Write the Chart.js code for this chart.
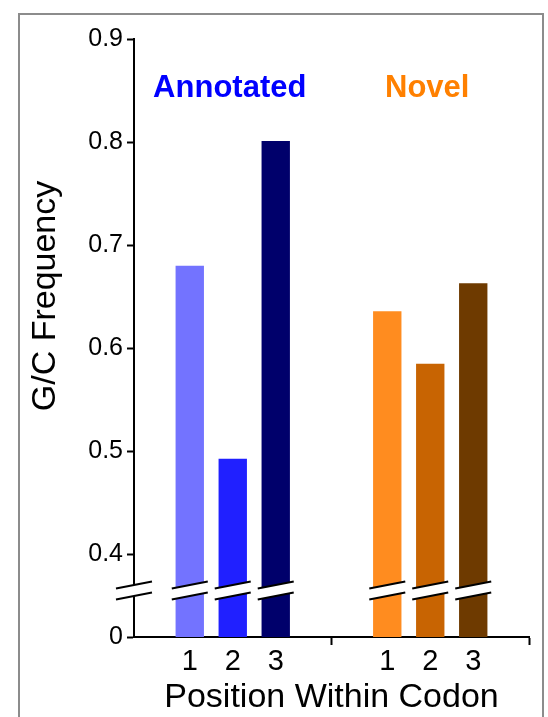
<!DOCTYPE html>
<html>
<head>
<meta charset="utf-8">
<script src="https://cdn.jsdelivr.net/npm/chart.js@4.4.1/dist/chart.umd.min.js"></script>
<style>
  html, body { margin:0; padding:0; background:#fff; }
  #wrap { position:relative; width:548px; height:717px; overflow:hidden; }
  #frame { position:absolute; left:18px; top:13px; width:522px; height:760px;
           border:2px solid #8c8c8c; border-bottom:none; pointer-events:none; }
</style>
</head>
<body>
<div id="wrap">
  <canvas id="chart" width="548" height="717"></canvas>
  <div id="frame"></div>
</div>
<script>
// data
const groups = ['Annotated', 'Novel'];
const positions = ['1', '2', '3'];
const pos1 = [0.680, 0.636];
const pos2 = [0.493, 0.585];
const pos3 = [0.801, 0.663];
const yTicks = [0.4, 0.5, 0.6, 0.7, 0.8, 0.9];
const axisFloor = 0.32;   // where "0" sits below the axis break
const breakAt = 0.365;    // value where the axis is broken

const blues = ['#7373ff', '#2020ff', '#00006b'];
const oranges = ['#ff8c1f', '#c86402', '#6e3a00'];
const groupColors = ['#0000ff', '#ff8000'];

const FONT = "'Liberation Sans', Arial, sans-serif";

// draws the break marks, the codon position labels and the group names
const extras = {
  id: 'extras',
  afterDatasetsDraw(chart){
    const ctx = chart.ctx;
    const y = chart.scales.y, x = chart.scales.x;
    const area = chart.chartArea;
    const cy = y.getPixelForValue(breakAt);
    const half = 18, gap = 5.5, rise = 3.5;

    const xs = [area.left];
    chart.data.datasets.forEach((ds, i) => {
      chart.getDatasetMeta(i).data.forEach(el => xs.push(el.x));
    });

    ctx.save();
    xs.forEach(cx => {
      ctx.fillStyle = '#fff';
      ctx.beginPath();
      ctx.moveTo(cx - half, cy - gap + rise);
      ctx.lineTo(cx + half, cy - gap - rise);
      ctx.lineTo(cx + half, cy + gap - rise);
      ctx.lineTo(cx - half, cy + gap + rise);
      ctx.closePath();
      ctx.fill();
      ctx.strokeStyle = '#000';
      ctx.lineWidth = 2;
      [-gap, gap].forEach(off => {
        ctx.beginPath();
        ctx.moveTo(cx - half, cy + off + rise);
        ctx.lineTo(cx + half, cy + off - rise);
        ctx.stroke();
      });
    });

    // position labels under each bar
    ctx.fillStyle = '#000';
    ctx.font = '29px ' + FONT;
    ctx.textAlign = 'center';
    ctx.textBaseline = 'alphabetic';
    chart.data.datasets.forEach((ds, i) => {
      chart.getDatasetMeta(i).data.forEach(el => {
        ctx.fillText(ds.label, el.x, area.bottom + 33);
      });
    });

    // group names
    ctx.font = 'bold 31px ' + FONT;
    groups.forEach((g, i) => {
      ctx.fillStyle = groupColors[i];
      ctx.fillText(g, x.getPixelForValue(i) - 3, area.top + 58);
    });

    // y title
    ctx.fillStyle = '#000';
    ctx.font = '34px ' + FONT;
    ctx.translate(46, 296);
    ctx.rotate(-Math.PI / 2);
    ctx.textBaseline = 'middle';
    ctx.fillText('G/C Frequency', 0, 0);
    ctx.restore();
  }
};

const seriesValues = [pos1, pos2, pos3];

new Chart(document.getElementById('chart'), {
  type: 'bar',
  data: {
    labels: groups,
    datasets: positions.map((p, i) => ({
      label: p,
      data: seriesValues[i],
      backgroundColor: [blues[i], oranges[i]],
      borderWidth: 0,
      categoryPercentage: 0.653,
      barPercentage: 0.66
    }))
  },
  options: {
    responsive: false,
    animation: false,
    layout: { padding: { left: 0, top: 39, right: 19, bottom: 0 } },
    plugins: { legend: { display: false }, tooltip: { enabled: false } },
    scales: {
      x: {
        offset: true,
        grid: {
          offset: true,
          drawOnChartArea: false,
          drawTicks: true,
          tickLength: 8,
          tickWidth: 2,
          tickColor: c => c.index === 0 ? 'rgba(0,0,0,0)' : '#000'
        },
        border: { display: true, color: '#000', width: 2 },
        ticks: { display: false },
        title: {
          display: true,
          text: 'Position Within Codon',
          color: '#000',
          font: { family: FONT, size: 34, lineHeight: 1 },
          padding: { top: 0, bottom: 2 }
        },
        afterFit(scale){
          scale.height = 80;
          scale.paddingLeft = 0;
          scale.paddingRight = 0;
        }
      },
      y: {
        min: axisFloor,
        max: 0.9,
        afterBuildTicks(scale){
          scale.ticks = [axisFloor].concat(yTicks).map(v => ({ value: v }));
        },
        grid: {
          drawOnChartArea: false,
          drawTicks: true,
          tickLength: 7,
          tickWidth: 2,
          color: '#000'
        },
        border: { display: true, color: '#000', width: 2 },
        ticks: {
          color: '#000',
          padding: 4,
          font: { family: FONT, size: 25 },
          callback: v => v === axisFloor ? '0' : v.toFixed(1)
        },
        afterFit(scale){
          scale.width = 134;
          scale.paddingTop = 0;
          scale.paddingBottom = 0;
        }
      }
    }
  },
  plugins: [extras]
});
</script>
</body>
</html>
